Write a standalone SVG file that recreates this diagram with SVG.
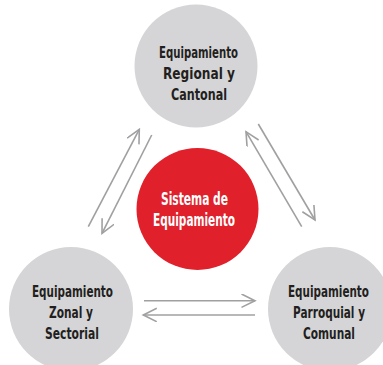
<svg xmlns="http://www.w3.org/2000/svg" width="383" height="365" viewBox="0 0 383 365">
  <style>
    .node-gray { fill: #D5D5D7; }
    .node-red { fill: #E0202A; }
    .lbl { font-family: "Liberation Sans Narrow", "DejaVu Sans Condensed", "Liberation Sans", sans-serif; font-weight: bold; text-anchor: middle; }
    .dark { fill: #231F20; font-size: 16.5px; }
    .light { fill: #FFFFFF; font-size: 17.5px; }
    .conn { stroke: #A0A0A2; stroke-width: 1.6; fill: none; marker-end: url(#open); }
  </style>
  <defs>
    <marker id="open" markerUnits="userSpaceOnUse" markerWidth="16" markerHeight="16" viewBox="0 0 16 16" refX="14" refY="7" orient="auto">
      <path d="M0.5,0.3 L14,7 L0.5,13.7" fill="none" stroke="#A0A0A2" stroke-width="1.6" stroke-linejoin="miter"/>
    </marker>
  </defs>

  <g id="connectors">
    <line class="conn" x1="88.3" y1="226.7" x2="139.3" y2="129.3"/>
    <line class="conn" x1="151.7" y1="135" x2="102" y2="233.3"/>
    <line class="conn" x1="301.7" y1="226.7" x2="246" y2="131.7"/>
    <line class="conn" x1="258.3" y1="124" x2="315" y2="220"/>
    <line class="conn" x1="144" y1="300.7" x2="255" y2="300.7"/>
    <line class="conn" x1="255" y1="315" x2="143.3" y2="315"/>
  </g>

  <g id="regional">
    <circle class="node-gray" cx="196" cy="66" r="61.5"/>
    <text class="lbl dark" x="198.5" y="58" textLength="79" lengthAdjust="spacingAndGlyphs">Equipamiento</text>
    <text class="lbl dark" x="199" y="79" textLength="72" lengthAdjust="spacingAndGlyphs">Regional y</text>
    <text class="lbl dark" x="199" y="100" textLength="56" lengthAdjust="spacingAndGlyphs">Cantonal</text>
  </g>

  <g id="sistema">
    <circle class="node-red" cx="197.5" cy="209" r="61"/>
    <text class="lbl light" x="194.5" y="205" textLength="67" lengthAdjust="spacingAndGlyphs">Sistema de</text>
    <text class="lbl light" x="194" y="226" textLength="82" lengthAdjust="spacingAndGlyphs">Equipamiento</text>
  </g>

  <g id="zonal">
    <circle class="node-gray" cx="71" cy="309" r="62"/>
    <text class="lbl dark" x="72.5" y="297" textLength="81" lengthAdjust="spacingAndGlyphs">Equipamiento</text>
    <text class="lbl dark" x="71" y="318" textLength="44" lengthAdjust="spacingAndGlyphs">Zonal y</text>
    <text class="lbl dark" x="72" y="339" textLength="54" lengthAdjust="spacingAndGlyphs">Sectorial</text>
  </g>

  <g id="parroquial">
    <circle class="node-gray" cx="330" cy="309" r="62"/>
    <text class="lbl dark" x="328.5" y="297" textLength="81" lengthAdjust="spacingAndGlyphs">Equipamiento</text>
    <text class="lbl dark" x="329" y="318" textLength="72" lengthAdjust="spacingAndGlyphs">Parroquial y</text>
    <text class="lbl dark" x="329" y="339" textLength="52" lengthAdjust="spacingAndGlyphs">Comunal</text>
  </g>
</svg>
